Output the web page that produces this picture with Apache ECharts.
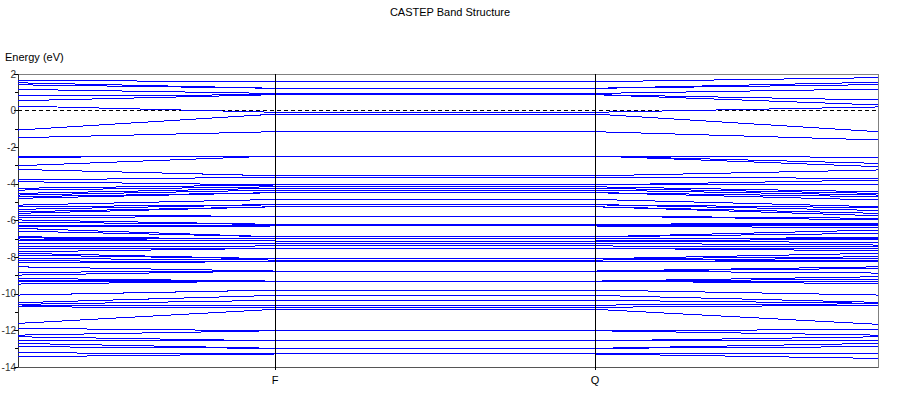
<!DOCTYPE html>
<html><head><meta charset="utf-8">
<script src="https://cdn.jsdelivr.net/npm/echarts@6/dist/echarts.min.js"></script>
<style>html,body{margin:0;padding:0;background:#fff}#c{width:900px;height:416px}
#c svg path{shape-rendering:crispEdges}</style>
</head><body><div id="c"></div>
<script>
// k-path positions: start, F, Q, end
const kPoints = [0, 2.57, 5.77, 8.6];
const kLabels = ['', 'F', 'Q', ''];
const yTicks = [-14, -12, -10, -8, -6, -4, -2, 0, 2];
const fermiLevel = 0;
// band energies (eV) at the start point, at F (= at Q, flat between), and at the end point
const bandStart = [1.65, 1.52, 1.41, 1.16, 0.80, 0.54, 0.25, -1.06, -1.48, -2.50, -2.55, -3.01,
  -3.21, -3.79, -3.88, -4.24, -4.34, -4.52, -4.61, -4.70, -4.79, -5.16, -5.25, -5.39, -5.52, -5.61, -5.74, -5.85, -5.97, -6.10, -6.25, -6.34, -6.43, -6.58, -6.89, -6.95, -7.01, -7.07, -7.25, -7.43, -7.52, -7.71, -7.79, -7.89, -8.07, -8.20, -8.31, -8.53, -8.83, -8.98, -9.16, -9.25, -9.34, -9.47,
  -10.07, -10.49, -10.58, -10.67, -10.72, -11.62, -11.89, -12.26, -12.35, -12.58, -12.71, -12.89, -13.22, -13.44];
const bandF = [1.58, 1.22, 1.22, 0.94, 0.87, 0.87, -0.09, -0.19, -1.15, -2.48, -2.48, -2.48,
  -3.56, -3.63, -4.06, -4.06, -4.16, -4.24, -4.34, -4.48, -4.48, -4.85, -5.14, -5.14, -5.25, -5.25, -5.76, -5.76, -6.21, -6.21, -6.30, -6.30, -6.89, -6.89, -7.01, -7.01, -7.12, -7.12, -7.25, -7.39, -7.52, -7.52, -8.09, -8.09, -8.16, -8.25, -8.25, -8.76, -8.76, -8.76, -9.31, -9.31, -9.31, -9.31,
  -9.80, -10.09, -10.36, -10.62, -10.74, -10.85, -12.02, -12.02, -12.57, -12.57, -12.98, -12.98, -13.29, -13.29];
const bandEnd = [1.80, 1.55, 1.42, 1.18, 0.31, 0.58, 0.20, -1.15, -1.60, -2.55, -2.88, -3.06,
  -3.24, -3.70, -3.79, -4.06, -4.43, -4.52, -4.61, -4.70, -4.88, -5.25, -5.30, -5.45, -5.61, -5.74, -5.88, -5.97, -6.14, -6.22, -6.30, -6.40, -6.52, -6.70, -6.93, -6.97, -7.02, -7.20, -7.34, -7.43, -7.52, -7.65, -7.79, -7.98, -8.07, -8.16, -8.25, -8.53, -8.62, -8.87, -9.07, -9.20, -9.34, -9.45,
  -10.07, -10.47, -10.52, -10.55, -10.62, -11.67, -11.95, -12.26, -12.35, -12.58, -12.71, -12.89, -13.26, -13.53];

const FONT = 'Liberation Sans';
const BLUE = '#0000ff';
const series = [];
series.push({
  type: 'line', silent: true, symbol: 'none', z: 1, color: '#000',
  data: [[kPoints[0], fermiLevel], [kPoints[3], fermiLevel]],
  lineStyle: {color: '#000', width: 1, type: [4, 3]}
});
for (let i = 0; i < bandStart.length; i++) {
  series.push({
    type: 'line', silent: true, symbol: 'none', z: 2, color: BLUE,
    itemStyle: {color: BLUE},
    data: [[kPoints[0], bandStart[i]], [kPoints[1], bandF[i]], [kPoints[2], bandF[i]], [kPoints[3], bandEnd[i]]],
    lineStyle: {color: BLUE, width: 1, opacity: 1},
    emphasis: {disabled: true}
  });
}
series.push({
  type: 'line', silent: true, symbol: 'none', z: 3, data: [], color: '#000',
  markLine: {
    silent: true, symbol: ['none', 'none'], label: {show: false}, animation: false,
    lineStyle: {color: '#000', width: 1, type: 'solid'},
    data: [{xAxis: kPoints[1]}, {xAxis: kPoints[2]}]
  }
});

const chart = echarts.init(document.getElementById('c'), null, {renderer: 'svg'});
chart.setOption({
  animation: false,
  backgroundColor: '#fff',
  color: [BLUE],
  title: {text: 'CASTEP Band Structure', left: 'center', top: 1,
    textStyle: {fontFamily: FONT, fontSize: 11, fontWeight: 'normal', color: '#000'}},
  grid: {left: 18, right: 22, top: 74, bottom: 49, show: true, borderColor: '#808080', borderWidth: 1,
    containLabel: false, outerBoundsMode: 'none'},
  xAxis: {
    type: 'value', min: kPoints[0], max: kPoints[3],
    axisLine: {show: true, onZero: false, lineStyle: {color: '#555', width: 1}},
    axisTick: {show: true, customValues: [kPoints[1], kPoints[2]], length: 3, lineStyle: {color: '#000'}},
    axisLabel: {show: true, customValues: [kPoints[1], kPoints[2]], margin: 7,
      formatter: v => kLabels[kPoints.indexOf(v)] || '',
      fontFamily: FONT, fontSize: 11, color: '#000'},
    splitLine: {show: false}
  },
  yAxis: {
    type: 'value', min: yTicks[0], max: yTicks[yTicks.length - 1], interval: 2,
    name: 'Energy (eV)', nameLocation: 'end', nameGap: 12,
    nameTextStyle: {fontFamily: FONT, fontSize: 11, color: '#000', align: 'left', padding: [0, 0, 0, -13]},
    axisLine: {show: true, lineStyle: {color: '#333', width: 1}},
    axisTick: {show: true, length: 4, lineStyle: {color: '#000'}},
    minorTick: {show: true, splitNumber: 2, length: 3, lineStyle: {color: '#000'}},
    axisLabel: {fontFamily: FONT, fontSize: 10, color: '#333', margin: 2},
    splitLine: {show: false}
  },
  series: series
});
</script></body></html>
